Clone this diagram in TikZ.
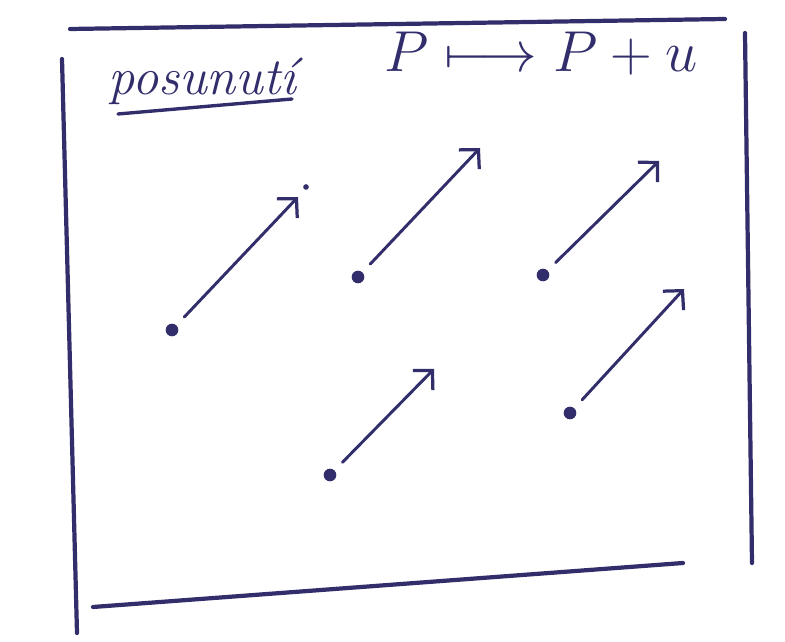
\documentclass[tikz,border=0pt]{standalone}
\usetikzlibrary{arrows.meta}
\definecolor{ink}{RGB}{50,46,108}
\tikzset{
  frameline/.style = {ink, line width=3pt, line cap=round},
  dot/.style = {circle, fill=ink, inner sep=0pt, minimum size=9pt},
  vector/.style = {ink, line width=2.1pt, line cap=round, shorten <=8pt,
                  -{Straight Barb[length=3.4mm, width=7mm, line width=2.3pt]}},
}
\begin{document}
\begin{tikzpicture}[x=0.025cm, y=-0.025cm]
  \useasboundingbox (0,0) rectangle (785,642);

  % Frame
  \draw [frameline] (70,29) -- (725,19);
  \draw [frameline] (62,59) -- (77,633);
  \draw [frameline] (745,33) -- (752,563);
  \draw [frameline] (93,607) -- (683,563);

  % Title and map
  \node[ink, anchor = base west, font = \Huge\itshape, scale = 1.5] (title) at (101,95) {posunutí};
  \draw [ink, line width=2.4pt, line cap=round] (118,114) -- (292,99);
  \node[ink, anchor = base west, font = \Huge, scale = 1.65] (map) at (376,72) {$P \longmapsto P+u$};

  % Points P
  \node[dot] (p1) at (172,330) {};
  \node[dot] (p2) at (358,277) {};
  \node[dot] (p3) at (543,275) {};
  \node[dot] (p4) at (330,475) {};
  \node[dot] (p5) at (570,413) {};

  % Images P + u
  \coordinate (q1) at (298,197);
  \coordinate (q2) at (480,148);
  \coordinate (q3) at (659,161);
  \coordinate (q4) at (434,369);
  \coordinate (q5) at (684,289);
  \node[dot, minimum size=4pt] (m1) at (306,187) {};

  % Translation vectors
  \draw [vector] (p1) -- (q1);
  \draw [vector] (p2) -- (q2);
  \draw [vector] (p3) -- (q3);
  \draw [vector] (p4) -- (q4);
  \draw [vector] (p5) -- (q5);
\end{tikzpicture}
\end{document}
